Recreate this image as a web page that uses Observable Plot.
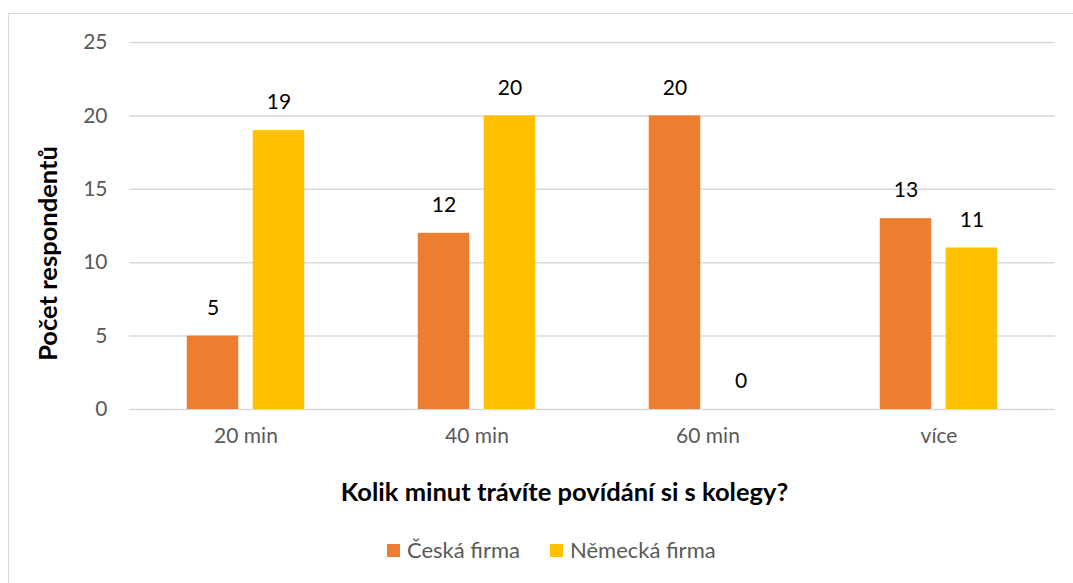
<!DOCTYPE html>
<html>
<head>
<meta charset="utf-8">
<script src="https://cdn.jsdelivr.net/npm/d3@7"></script>
<script src="https://cdn.jsdelivr.net/npm/@observablehq/plot@0.6"></script>
<style>
  html, body { margin: 0; padding: 0; background: #fff; overflow: hidden; }
  body { width: 1073px; height: 583px; position: relative; font-family: Lato, "Open Sans", sans-serif; }
  #frame { position: absolute; left: 8px; top: 13px; width: 1100px; height: 600px; border: 1.5px solid #d9d9d9; box-sizing: border-box; }
  #chart { position: absolute; left: 0; top: 0; }
  #legend { position: absolute; left: 0; top: 536px; width: 1073px; height: 28px; font-family: Lato, sans-serif; font-size: 22px; color: #595959; }
  .item { position: absolute; top: 0; display: flex; align-items: center; white-space: nowrap; line-height: 28px; }
  .sw { width: 13px; height: 13px; margin-right: 7px; display: inline-block; }
</style>
</head>
<body>
<div id="frame"></div>
<div id="chart"></div>
<div id="legend"></div>
<script>
const categories = ["20 min", "40 min", "60 min", "více"];
const ceska = [5, 12, 20, 13];
const nemecka = [19, 20, 0, 11];
const seriesNames = ["Česká firma", "Německá firma"];
const seriesColors = ["#ED7D31", "#FFC000"];
const yTicks = [0, 5, 10, 15, 20, 25];
const xTitle = "Kolik minut trávíte povídání si s kolegy?";
const yTitle = "Počet respondentů";

const rows = categories.map((c, i) => ({cat: c, ceska: ceska[i], nemecka: nemecka[i]}));

const chart = Plot.plot({
  width: 1073,
  height: 520,
  marginLeft: 129,
  marginRight: 18,
  marginTop: 42,
  marginBottom: 111,
  style: {fontFamily: "Lato, sans-serif", background: "transparent", overflow: "visible"},
  x: {domain: categories, padding: 0, label: null},
  y: {domain: [0, 25], label: null},
  marks: [
    Plot.gridY(yTicks, {stroke: "#d9d9d9", strokeOpacity: 1, strokeWidth: 1.5}),
    Plot.axisY(yTicks, {tickSize: 0, tickPadding: 22, fontSize: 21, fill: "#595959", label: null}),
    Plot.axisX({tickSize: 0, tickPadding: 19, fontSize: 21, fill: "#595959", label: null}),
    Plot.barY(rows, {x: "cat", y: "ceska", fill: seriesColors[0], insetLeft: 56.75, insetRight: 122.75}),
    Plot.barY(rows, {x: "cat", y: "nemecka", fill: seriesColors[1], insetLeft: 122.75, insetRight: 56.75}),
    Plot.text(rows, {x: "cat", y: "ceska", text: d => String(d.ceska), dx: -33, dy: -28, fontSize: 21, fill: "#000"}),
    Plot.text(rows, {x: "cat", y: "nemecka", text: d => String(d.nemecka), dx: 33, dy: -28, fontSize: 21, fill: "#000"}),
    Plot.text([xTitle], {frameAnchor: "bottom", textAnchor: "middle", lineAnchor: "middle", dx: -28, dy: 83, fontSize: 25.5, fontWeight: "bold", fill: "#000"}),
    Plot.text([yTitle], {frameAnchor: "left", textAnchor: "middle", lineAnchor: "middle", dx: -81, dy: 27.5, rotate: -90, fontSize: 25.5, fontWeight: "bold", fill: "#000"})
  ]
});
document.getElementById("chart").appendChild(chart);

const legend = document.getElementById("legend");
const lefts = [387, 550];
seriesNames.forEach((name, i) => {
  const it = document.createElement("div");
  it.className = "item";
  it.style.left = lefts[i] + "px";
  const sw = document.createElement("span");
  sw.className = "sw";
  sw.style.background = seriesColors[i];
  it.appendChild(sw);
  it.appendChild(document.createTextNode(name));
  legend.appendChild(it);
});
</script>
</body>
</html>
